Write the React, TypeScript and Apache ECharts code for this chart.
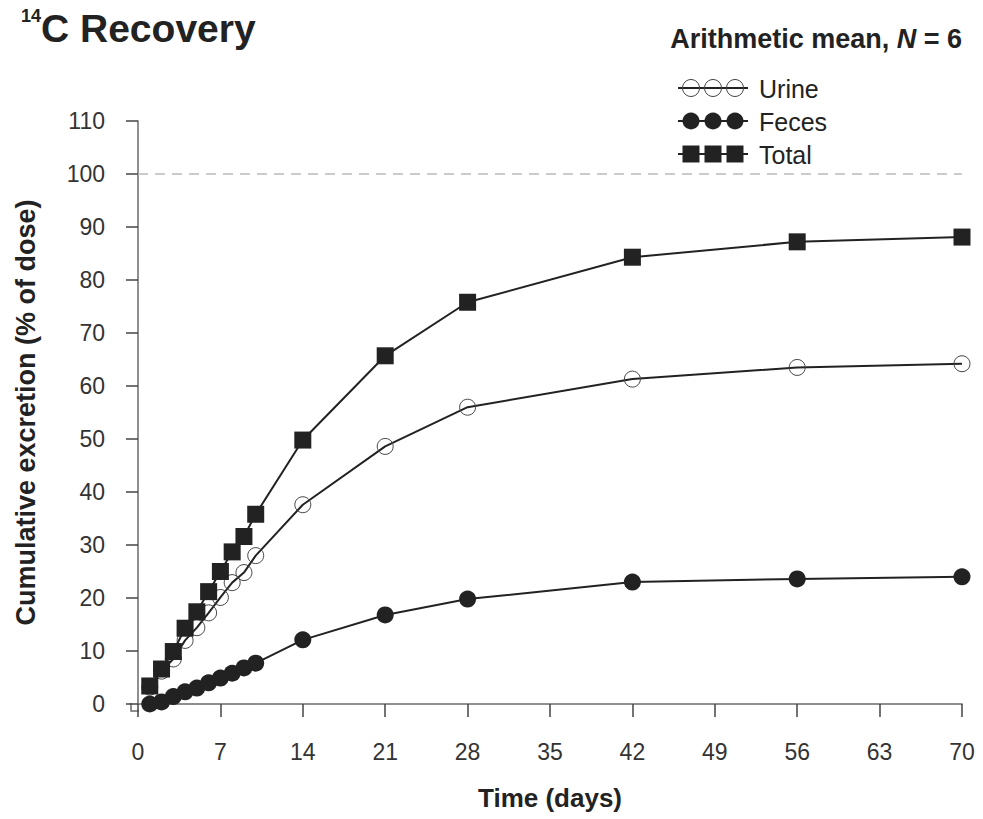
import React, { useEffect, useRef } from "react";
import * as echarts from "echarts";

const days = [1, 2, 3, 4, 5, 6, 7, 8, 9, 10, 14, 21, 28, 42, 56, 70];
const urine = [3.2, 6.2, 8.5, 12.0, 14.4, 17.2, 20.1, 22.9, 24.8, 28.0, 37.6, 48.6, 56.0, 61.3, 63.5, 64.2];
const feces = [0.0, 0.4, 1.4, 2.3, 3.0, 4.0, 4.9, 5.8, 6.8, 7.7, 12.1, 16.8, 19.8, 23.0, 23.6, 24.0];
const total = [3.4, 6.6, 9.9, 14.3, 17.4, 21.2, 25.0, 28.7, 31.6, 35.8, 49.8, 65.7, 75.8, 84.3, 87.2, 88.1];
const seriesNames = ["Urine", "Feces", "Total"];
const referenceLine = 100;

const FONT = "'Liberation Sans', Arial, Helvetica, sans-serif";
const LINE = "#222";
const AXIS = "#6a6a6a";

function legendItem(name: string, kind: "hollow" | "circle" | "square", y: number) {
  const x0 = 678;
  const x1 = 748;
  const xs = [691, 713, 735];
  const children: any[] = [
    { type: "line", shape: { x1: x0, y1: y, x2: x1, y2: y }, style: { stroke: LINE, lineWidth: 2 } },
  ];
  xs.forEach((cx) => {
    if (kind === "square") {
      children.push({ type: "rect", shape: { x: cx - 8.5, y: y - 8.5, width: 17, height: 17 }, style: { fill: LINE } });
    } else if (kind === "circle") {
      children.push({ type: "circle", shape: { cx, cy: y, r: 8.5 }, style: { fill: LINE } });
    } else {
      children.push({ type: "circle", shape: { cx, cy: y, r: 8.5 }, style: { fill: "none", stroke: "#444", lineWidth: 1 } });
    }
  });
  children.push({
    type: "text",
    x: 759,
    y: y + 1,
    style: { text: name, font: `25px ${FONT}`, fill: "#222", verticalAlign: "middle", textAlign: "left" },
  });
  return { type: "group", children };
}

export default function App() {
  const ref = useRef<HTMLDivElement>(null);
  useEffect(() => {
    if (!ref.current) return;
    const chart = echarts.init(ref.current, null, { renderer: "svg" });
    const toData = (vals: number[]) => days.map((d, i) => [d, vals[i]]);
    chart.setOption({
      animation: false,
      backgroundColor: "#fff",
      textStyle: { fontFamily: FONT },
      grid: { left: 138, right: 21, top: 121, bottom: 115 },
      title: {
        left: 16,
        top: 2,
        text: "{sup|14}{b|C Recovery}",
        textStyle: {
          rich: {
            sup: { fontSize: 18, fontWeight: "bold", color: "#222", fontFamily: FONT, verticalAlign: "top", lineHeight: 42 },
            b: { fontSize: 39, fontWeight: "bold", color: "#222", fontFamily: FONT, lineHeight: 42 },
          },
        },
      },
      graphic: [
        {
          type: "text",
          right: 21,
          top: 25,
          style: {
            text: "{a|Arithmetic mean, }{i|N}{a| = 6}",
            rich: {
              a: { font: `bold 27px ${FONT}`, fill: "#222" },
              i: { font: `italic bold 27px ${FONT}`, fill: "#222" },
            },
          },
        },
        {
          type: "polyline",
          shape: { points: [[131, 703], [131, 711], [139, 711]] },
          style: { stroke: AXIS, lineWidth: 1.5, fill: "none" },
        },
        legendItem(seriesNames[0], "hollow", 88),
        legendItem(seriesNames[1], "circle", 121),
        legendItem(seriesNames[2], "square", 154),
      ],
      xAxis: {
        type: "value",
        min: 0,
        max: 70,
        interval: 7,
        offset: 7,
        name: "Time (days)",
        nameLocation: "middle",
        nameGap: 74,
        nameTextStyle: { fontSize: 26, fontWeight: "bold", color: "#222", fontFamily: FONT },
        axisLine: { show: true, lineStyle: { color: AXIS, width: 1.5 } },
        axisTick: { show: true, length: 13, lineStyle: { color: "#444", width: 1.5 } },
        axisLabel: { margin: 29, fontSize: 23, color: "#333", fontFamily: FONT },
        splitLine: { show: false },
      },
      yAxis: {
        type: "value",
        min: 0,
        max: 110,
        interval: 10,
        offset: 7,
        name: "Cumulative excretion (% of dose)",
        nameLocation: "middle",
        nameGap: 92,
        nameTextStyle: { fontSize: 27, fontWeight: "bold", color: "#222", fontFamily: FONT },
        axisLine: { show: true, lineStyle: { color: AXIS, width: 1.5 } },
        axisTick: { show: true, length: 12, lineStyle: { color: "#444", width: 1.5 } },
        axisLabel: { margin: 26, fontSize: 23, color: "#333", fontFamily: FONT },
        splitLine: { show: false },
      },
      series: [
        {
          name: seriesNames[0],
          type: "line",
          data: toData(urine),
          symbol: "circle",
          symbolSize: 16,
          lineStyle: { color: LINE, width: 2 },
          itemStyle: { color: "rgba(255,255,255,0)", borderColor: "#444", borderWidth: 1 },
          z: 2,
          markLine: {
            silent: true,
            symbol: "none",
            label: { show: false },
            lineStyle: { color: "#bbb", type: [10, 7], width: 1.5 },
            data: [{ yAxis: referenceLine }],
          },
        },
        {
          name: seriesNames[1],
          type: "line",
          data: toData(feces),
          symbol: "circle",
          symbolSize: 17,
          lineStyle: { color: LINE, width: 2 },
          itemStyle: { color: LINE },
          z: 3,
        },
        {
          name: seriesNames[2],
          type: "line",
          data: toData(total),
          symbol: "rect",
          symbolSize: 17,
          lineStyle: { color: LINE, width: 2 },
          itemStyle: { color: LINE },
          z: 4,
        },
      ],
    });
    return () => chart.dispose();
  }, []);
  return <div ref={ref} style={{ position: "fixed", left: 0, top: 0, width: 983, height: 819 }} />;
}
